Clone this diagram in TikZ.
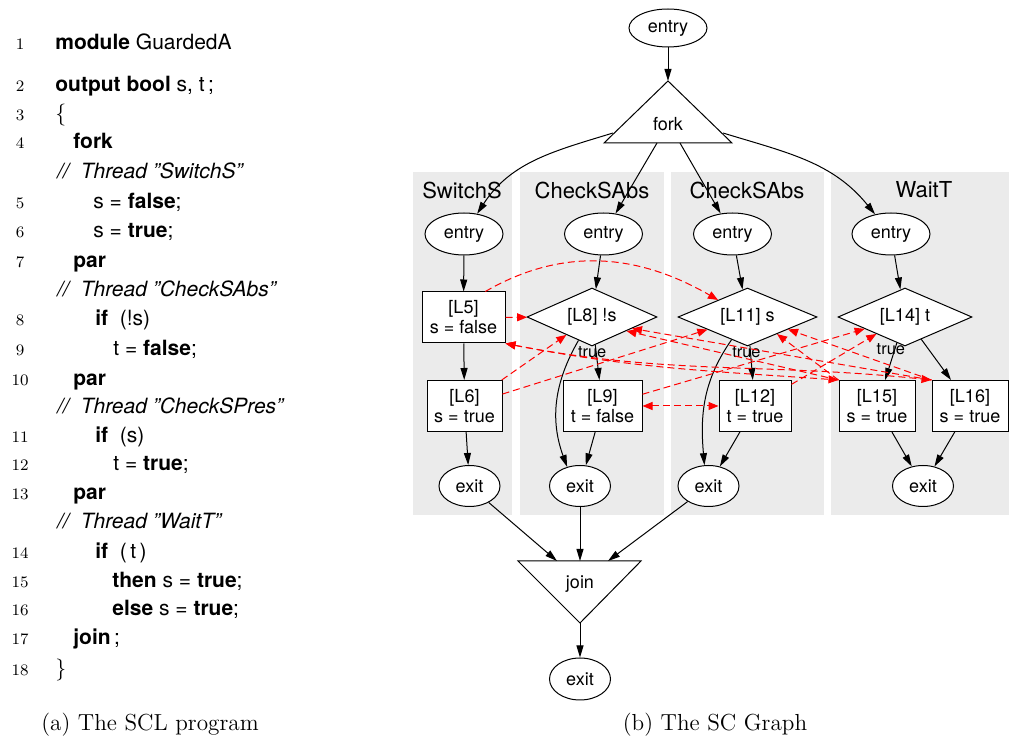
\documentclass[tikz,border=0pt]{standalone}
\usepackage{fontspec}
\newfontfamily\hv{TeX Gyre Heros}
\usetikzlibrary{shapes.geometric,arrows.meta}
\definecolor{clu}{HTML}{EBEBEB}
\begin{document}
\begin{tikzpicture}[x=0.5pt,y=0.5pt,
  gnode/.style={draw, line width=0.5pt, font=\hv\fontsize{9}{10}\selectfont, inner sep=0pt, align=center, fill=white},
  ell/.style={gnode, ellipse},
  sbox/.style={gnode, rectangle, minimum height=25.5pt},
  dia/.style={gnode, diamond, aspect=2.3, minimum height=29pt},
  arr/.style={-{Triangle[length=6pt,width=3.5pt]}, line width=0.5pt},
  dep/.style={red, dash pattern=on 3.5pt off 2pt, line width=0.5pt, -{Triangle[length=5pt,width=4pt]}},
  depb/.style={red, dash pattern=on 3.5pt off 2pt, line width=0.5pt, {Triangle[length=5pt,width=4pt]}-{Triangle[length=5pt,width=4pt]}},
  clus/.style={fill=clu, draw=none},
  ttl/.style={font=\hv\fontsize{11}{13}\selectfont, inner sep=0pt},
  lbl/.style={font=\hv\fontsize{8.2}{9}\selectfont, inner sep=0pt},
  code/.style={anchor=base west, inner sep=0pt, font=\hv\fontsize{10.5}{12}\selectfont},
  lno/.style={anchor=base, inner sep=0pt, font=\fontsize{8}{9}\selectfont},
  capt/.style={font=\fontsize{11.6}{14}\selectfont, inner sep=0pt}
]
\useasboundingbox (0,0) rectangle (1009,-743);

% ---------------- left: program ----------------
\node[lno] (n1) at (20,-50) {1};   \node[code] (c1) at (55,-50) {\textbf{module} GuardedA};
\node[lno] (n2) at (20,-92) {2};   \node[code] (c2) at (55,-92) {\textbf{output bool} s, t\,;};
\node[lno] (n3) at (20,-121) {3};  \node[code] (c3) at (55,-121) {$\{$};
\node[lno] (n4) at (20,-149) {4};  \node[code] (c4) at (73,-149) {\textbf{fork}};
\node[code] (k1) at (57,-179) {\itshape //\ \ Thread ”SwitchS”};
\node[lno] (n5) at (20,-209) {5};  \node[code] (c5) at (93,-209) {s = \textbf{false};};
\node[lno] (n6) at (20,-238) {6};  \node[code] (c6) at (93,-238) {s = \textbf{true};};
\node[lno] (n7) at (20,-268) {7};  \node[code] (c7) at (73,-268) {\textbf{par}};
\node[code] (k2) at (57,-297) {\itshape //\ \ Thread ”CheckSAbs”};
\node[lno] (n8) at (20,-326) {8};  \node[code] (c8) at (95,-326) {\textbf{if}\ \ (!s)};
\node[lno] (n9) at (20,-356) {9};  \node[code] (c9) at (113,-356) {t\ = \textbf{false};};
\node[lno] (n10) at (20,-386) {10}; \node[code] (c10) at (73,-386) {\textbf{par}};
\node[code] (k3) at (57,-414) {\itshape //\ \ Thread ”CheckSPres”};
\node[lno] (n11) at (20,-443) {11}; \node[code] (c11) at (95,-443) {\textbf{if}\ \ (s)};
\node[lno] (n12) at (20,-471) {12}; \node[code] (c12) at (113,-471) {t\ = \textbf{true};};
\node[lno] (n13) at (20,-500) {13}; \node[code] (c13) at (73,-500) {\textbf{par}};
\node[code] (k4) at (57,-529) {\itshape //\ \ Thread ”WaitT”};
\node[lno] (n14) at (20,-559) {14}; \node[code] (c14) at (95,-559) {\textbf{if}\ \ (\,t\,)};
\node[lno] (n15) at (20,-588) {15}; \node[code] (c15) at (112,-588) {\textbf{then} s = \textbf{true};};
\node[lno] (n16) at (20,-616) {16}; \node[code] (c16) at (112,-616) {\textbf{else} s = \textbf{true};};
\node[lno] (n17) at (20,-645) {17}; \node[code] (c17) at (73,-645) {\textbf{join}\,;};
\node[lno] (n18) at (20,-676) {18}; \node[code] (c18) at (55,-676) {$\}$};
\node[capt] (capa) at (150,-725) {(a) The SCL program};

% ---------------- right: SC graph ----------------
\fill[clus] (413,-172) rectangle (512,-515);
\fill[clus] (520,-172) rectangle (664,-515);
\fill[clus] (671,-172) rectangle (824,-515);
\fill[clus] (831,-172) rectangle (1009,-515);
\node[ttl] (t1) at (462,-190) {SwitchS};
\node[ttl] (t2) at (592,-190) {CheckSAbs};
\node[ttl] (t3) at (747,-190) {CheckSAbs};
\node[ttl] (t4) at (924,-190) {WaitT};

\node[ell, minimum width=39pt, minimum height=19pt] (top) at (668,-28) {entry};
\coordinate (forkA) at (668,-81);
\coordinate (forkR) at (732,-143);
\coordinate (forkL) at (604,-143);
\draw[line width=0.5pt, fill=white] (forkA) -- (forkR) -- (forkL) -- cycle;
\node[font=\hv\fontsize{9}{10}\selectfont, inner sep=0pt] (fork) at (668,-124) {fork};
\coordinate (f1) at (613,-133);
\coordinate (f2) at (657,-143);
\coordinate (f3) at (680,-143);
\coordinate (f4) at (723,-133);

\node[ell, minimum width=39pt, minimum height=21pt] (e1) at (464,-234) {entry};
\node[ell, minimum width=39pt, minimum height=21pt] (e2) at (603.5,-234) {entry};
\node[ell, minimum width=39pt, minimum height=21pt] (e3) at (732.5,-234) {entry};
\node[ell, minimum width=39pt, minimum height=21pt] (e4) at (891,-234) {entry};

\node[sbox, minimum width=41.5pt] (L5) at (463.5,-317.5) {[L5]\\s = false};
\node[sbox, minimum width=37.5pt] (L6) at (464.5,-406) {[L6]\\s = true};
\node[dia, minimum width=65pt] (L8) at (592,-317) {[L8] !s};
\node[sbox, minimum width=39.5pt] (L9) at (602.5,-406) {[L9]\\t = false};
\node[dia, minimum width=69.5pt] (L11) at (747.5,-317) {[L11] s};
\node[sbox, minimum width=36pt] (L12) at (755,-406) {[L12]\\t = true};
\node[dia, minimum width=67pt] (L14) at (905,-317) {[L14] t};
\node[sbox, minimum width=38pt] (L15) at (877,-406) {[L15]\\s = true};
\node[sbox, minimum width=38pt] (L16) at (970,-406) {[L16]\\s = true};

\node[ell, minimum width=30.5pt, minimum height=20.5pt] (x1) at (469.5,-486) {exit};
\node[ell, minimum width=30.5pt, minimum height=20.5pt] (x2) at (580,-486) {exit};
\node[ell, minimum width=30.5pt, minimum height=20.5pt] (x3) at (708.5,-486) {exit};
\node[ell, minimum width=30.5pt, minimum height=20.5pt] (x4) at (923,-486) {exit};

\coordinate (joinL) at (518,-561);
\coordinate (joinR) at (641,-561);
\coordinate (joinB) at (580,-623);
\draw[line width=0.5pt, fill=white] (joinL) -- (joinR) -- (joinB) -- cycle;
\node[font=\hv\fontsize{9}{10}\selectfont, inner sep=0pt] (join) at (580,-584) {join};
\coordinate (j1) at (557,-561);
\coordinate (j2) at (580,-561);
\coordinate (j3) at (608,-561);
\node[ell, minimum width=30.5pt, minimum height=21pt] (xe) at (580,-679) {exit};

% black control flow
\draw[arr] (top) -- (forkA);
\draw[arr] (f1) to[out=197,in=57] (e1);
\draw[arr] (f2) -- (e2);
\draw[arr] (f3) -- (e3);
\draw[arr] (f4) to[out=-17,in=129] (e4);
\draw[arr] (e1) -- (L5);
\draw[arr] (e2) -- (L8);
\draw[arr] (e3) -- (L11);
\draw[arr] (e4) -- (L14);
\draw[arr] (L5) -- (L6);
\draw[arr] (L6) -- (x1);
\draw[arr] (L8) -- node[lbl, pos=0.2, xshift=-2pt] (tr1) {true} (L9);
\draw[arr] (L8.-120) to[out=-120,in=110] (x2.124);
\draw[arr] (L9) -- (x2);
\draw[arr] (L11) -- node[lbl, pos=0.2, xshift=-2pt] (tr2) {true} (L12);
\draw[arr] (L11.-125) to[out=-125,in=95] (x3.101);
\draw[arr] (L12) -- (x3);
\draw[arr] (L14) -- node[lbl, pos=0.17, xshift=-2pt] (tr3) {true} (L15);
\draw[arr] (L14) -- (L16);
\draw[arr] (L15) -- (x4);
\draw[arr] (L16) -- (x4);
\draw[arr] (x1) -- (j1);
\draw[arr] (x2) -- (j2);
\draw[arr] (x3) -- (j3);
\draw[arr] (joinB) -- (xe);

% red dependencies
\draw[dep] (L5) -- (L8);
\draw[dep] (L5.50) to[out=30,in=150] (L11.150);
\draw[dep] (L6) -- (L8);
\draw[dep] (L6) -- (L11);
\draw[depb] (L9) -- (L12);
\draw[dep] (L9) -- (L14);
\draw[dep] (L12) -- (L14);
\draw[depb] (L5.south east) to[out=-11,in=176] (L15.north west);
\draw[depb] (L5.south east) to[out=-11,in=174] (L16.north west);
\draw[dep] (L15.north west) -- (L8.-22);
\draw[dep] (L16.north west) -- (L8.-16);
\draw[dep] (L15.north west) -- (L11.-30);
\draw[dep] (L16.north west) -- (L11.-17);

\node[capt] (capb) at (715,-725) {(b) The SC Graph};
\end{tikzpicture}
\end{document}
